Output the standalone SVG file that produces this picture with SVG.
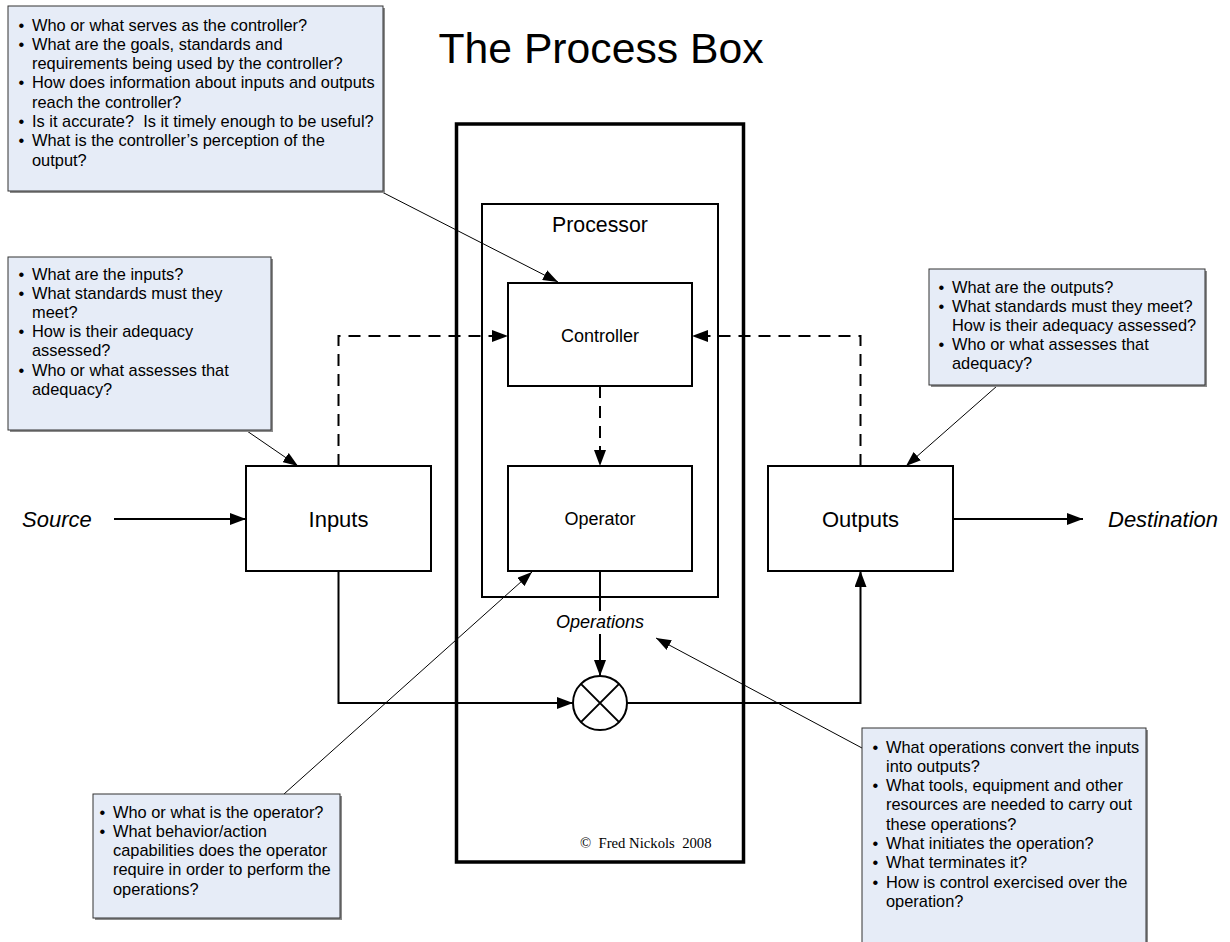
<svg xmlns="http://www.w3.org/2000/svg" width="1230" height="942" viewBox="0 0 1230 942">
<defs>
<marker id="arr" markerUnits="userSpaceOnUse" markerWidth="16" markerHeight="12" refX="16" refY="6" orient="auto"><path d="M0,0 L16,6 L0,12 z" fill="#000"/></marker>
<marker id="arrs" markerUnits="userSpaceOnUse" markerWidth="15" markerHeight="11" refX="15" refY="5.5" orient="auto"><path d="M0,0 L15,5.5 L0,11 z" fill="#000"/></marker>
</defs>
<style>
.call{fill:#e6ecf7;stroke:#333;stroke-width:1}
.shad{fill:#8c8c8c}
.ct{font-family:"Liberation Sans",Arial,sans-serif;font-size:16.4px;fill:#000}
.box{fill:#fff;stroke:#000;stroke-width:2}
.lbl{font-family:"Liberation Sans",Arial,sans-serif;fill:#000;text-anchor:middle}
.ln{fill:none;stroke:#000;stroke-width:2}
.dash{fill:none;stroke:#000;stroke-width:2;stroke-dasharray:12 8}
.thin{fill:none;stroke:#000;stroke-width:1}
</style>
<rect width="1230" height="942" fill="#fff"/>
<text x="601" y="63" class="lbl" font-size="42.7">The Process Box</text>

<g id="processbox"><rect x="456.5" y="124" width="287" height="738" fill="none" stroke="#000" stroke-width="3.5"/></g>
<g id="processor"><rect x="482" y="204" width="236" height="393" class="box"/>
<text x="600" y="232" class="lbl" font-size="21.3">Processor</text></g>
<g id="controller"><rect x="508" y="283" width="184" height="103" class="box"/>
<text x="600" y="342" class="lbl" font-size="18">Controller</text></g>
<g id="operator"><rect x="508" y="466" width="184" height="105" class="box"/>
<text x="600" y="525" class="lbl" font-size="18">Operator</text></g>
<g id="inputs"><rect x="246" y="466" width="185" height="105" class="box"/>
<text x="338.5" y="526.5" class="lbl" font-size="22">Inputs</text></g>
<g id="outputs"><rect x="768" y="466" width="185" height="105" class="box"/>
<text x="860.5" y="526.5" class="lbl" font-size="22">Outputs</text></g>
<g id="junction"><circle cx="600" cy="703" r="27" fill="#fff" stroke="#000" stroke-width="2"/>
<path d="M580.9,683.9 L619.1,722.1 M619.1,683.9 L580.9,722.1" class="ln"/></g>
<g id="source"><text x="22" y="527" font-family="Liberation Sans,Arial,sans-serif" font-size="22" font-style="italic">Source</text></g>
<g id="destination"><text x="1108" y="527" font-family="Liberation Sans,Arial,sans-serif" font-size="22" font-style="italic">Destination</text></g>
<g id="operations"><text x="600" y="628" class="lbl" font-size="18" font-style="italic">Operations</text></g>

<g id="connectors">
<path d="M114,519 H246" class="ln" marker-end="url(#arr)"/>
<path d="M953,519 H1083" class="ln" marker-end="url(#arr)"/>
<path d="M338.5,466 V336 H508" class="dash" marker-end="url(#arr)"/>
<path d="M860.5,466 V336 H692" class="dash" marker-end="url(#arr)"/>
<path d="M600,386 V466" class="dash" marker-end="url(#arr)"/>
<path d="M338.5,571 V703 H573" class="ln" marker-end="url(#arr)"/>
<path d="M600,571 V611" class="ln"/>
<path d="M600,634 V676" class="ln" marker-end="url(#arr)"/>
<path d="M627,703 H860.5 V571" class="ln" marker-end="url(#arr)"/>
<path d="M380,191 L558,282" class="thin" marker-end="url(#arrs)"/>
<path d="M247,431 L298,466" class="thin" marker-end="url(#arrs)"/>
<path d="M997,386 L906,466" class="thin" marker-end="url(#arrs)"/>
<path d="M284,794 L532,572" class="thin" marker-end="url(#arrs)"/>
<path d="M862,748 L656,638" class="thin" marker-end="url(#arrs)"/>
</g>

<g id="callout-controller">
<rect x="10" y="8" width="375" height="185" class="shad"/>
<rect x="8" y="6" width="375" height="185" class="call"/>
<text class="ct" xml:space="preserve"><tspan x="18.5" y="30.5">•</tspan><tspan x="32" y="30.5">Who or what serves as the controller?</tspan><tspan x="18.5" y="49.8">•</tspan><tspan x="32" y="49.8">What are the goals, standards and</tspan><tspan x="32" y="69.1">requirements being used by the controller?</tspan><tspan x="18.5" y="88.4">•</tspan><tspan x="32" y="88.4">How does information about inputs and outputs</tspan><tspan x="32" y="107.7">reach the controller?</tspan><tspan x="18.5" y="127">•</tspan><tspan x="32" y="127">Is it accurate?  Is it timely enough to be useful?</tspan><tspan x="18.5" y="146.3">•</tspan><tspan x="32" y="146.3">What is the controller’s perception of the</tspan><tspan x="32" y="165.6">output?</tspan></text>
</g>

<g id="callout-inputs">
<rect x="10" y="259" width="263" height="173" class="shad"/>
<rect x="8" y="257" width="263" height="173" class="call"/>
<text class="ct"><tspan x="18.5" y="279.5">•</tspan><tspan x="32" y="279.5">What are the inputs?</tspan><tspan x="18.5" y="298.7">•</tspan><tspan x="32" y="298.7">What standards must they</tspan><tspan x="32" y="317.9">meet?</tspan><tspan x="18.5" y="337.1">•</tspan><tspan x="32" y="337.1">How is their adequacy</tspan><tspan x="32" y="356.3">assessed?</tspan><tspan x="18.5" y="375.5">•</tspan><tspan x="32" y="375.5">Who or what assesses that</tspan><tspan x="32" y="394.7">adequacy?</tspan></text>
</g>

<g id="callout-outputs">
<rect x="931" y="271" width="276" height="116" class="shad"/>
<rect x="929" y="269" width="276" height="116" class="call"/>
<text class="ct"><tspan x="938.5" y="292.5">•</tspan><tspan x="952" y="292.5">What are the outputs?</tspan><tspan x="938.5" y="311.7">•</tspan><tspan x="952" y="311.7">What standards must they meet?</tspan><tspan x="952" y="330.9">How is their adequacy assessed?</tspan><tspan x="938.5" y="350.1">•</tspan><tspan x="952" y="350.1">Who or what assesses that</tspan><tspan x="952" y="369.3">adequacy?</tspan></text>
</g>

<g id="callout-operator">
<rect x="95" y="796" width="247" height="124" class="shad"/>
<rect x="93" y="794" width="247" height="124" class="call"/>
<text class="ct"><tspan x="99.5" y="817.5">•</tspan><tspan x="113" y="817.5">Who or what is the operator?</tspan><tspan x="99.5" y="836.8">•</tspan><tspan x="113" y="836.8">What behavior/action</tspan><tspan x="113" y="856.1">capabilities does the operator</tspan><tspan x="113" y="875.4">require in order to perform the</tspan><tspan x="113" y="894.7">operations?</tspan></text>
</g>

<g id="callout-operations">
<rect x="864" y="730" width="284" height="230" class="shad"/>
<rect x="862" y="728" width="284" height="230" class="call"/>
<text class="ct"><tspan x="872.5" y="752.5">•</tspan><tspan x="886" y="752.5">What operations convert the inputs</tspan><tspan x="886" y="771.8">into outputs?</tspan><tspan x="872.5" y="791.1">•</tspan><tspan x="886" y="791.1">What tools, equipment and other</tspan><tspan x="886" y="810.4">resources are needed to carry out</tspan><tspan x="886" y="829.7">these operations?</tspan><tspan x="872.5" y="849">•</tspan><tspan x="886" y="849">What initiates the operation?</tspan><tspan x="872.5" y="868.3">•</tspan><tspan x="886" y="868.3">What terminates it?</tspan><tspan x="872.5" y="887.6">•</tspan><tspan x="886" y="887.6">How is control exercised over the</tspan><tspan x="886" y="906.9">operation?</tspan></text>
</g>

<g id="copyright"><text x="580" y="848" font-family="Liberation Serif,'Times New Roman',serif" font-size="14.7" xml:space="preserve">©  Fred Nickols  2008</text></g>
</svg>
